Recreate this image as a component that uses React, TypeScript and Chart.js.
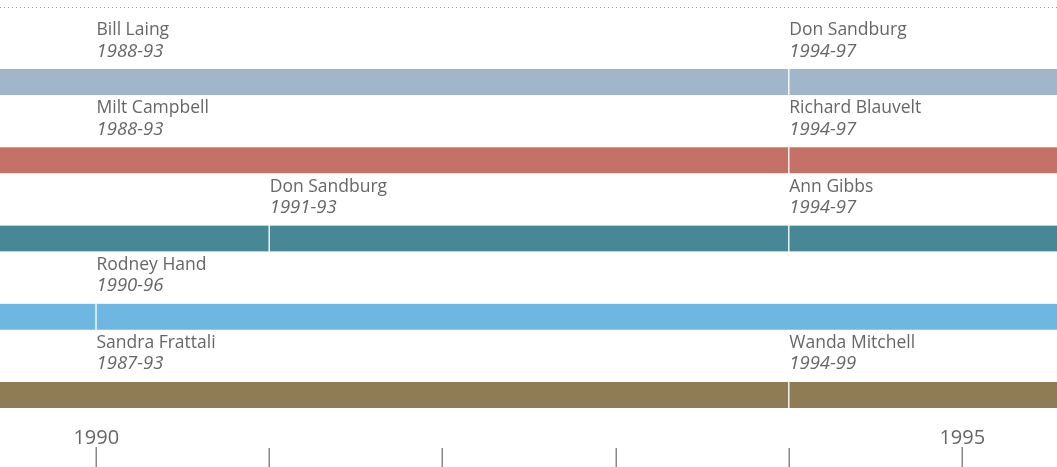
import React, { useEffect, useRef } from "react";
import { Chart, registerables } from "chart.js";

Chart.register(...registerables);

const rows = ["Row 1", "Row 2", "Row 3", "Row 4", "Row 5"];
const rowColors = ["#a1b6cb", "#c47266", "#478897", "#6fb7e3", "#8f7c54"];

const term1: [number, number][] = [[1988, 1994], [1988, 1994], [1988, 1991], [1987, 1990], [1987, 1994]];
const term1Names = ["Bill Laing", "Milt Campbell", "", "", "Sandra Frattali"];
const term1Years = ["1988-93", "1988-93", "", "", "1987-93"];

const term2: [number, number][] = [[1994, 1998], [1994, 1998], [1991, 1994], [1990, 1997], [1994, 2000]];
const term2Names = ["Don Sandburg", "Richard Blauvelt", "Don Sandburg", "Rodney Hand", "Wanda Mitchell"];
const term2Years = ["1994-97", "1994-97", "1991-93", "1990-96", "1994-99"];

const term3: ([number, number] | null)[] = [null, null, [1994, 1998], null, null];
const term3Names = ["", "", "Ann Gibbs", "", ""];
const term3Years = ["", "", "1994-97", "", ""];

const tickYears = [1990, 1991, 1992, 1993, 1994, 1995];
const tickLabels = ["1990", "", "", "", "", "1995"];

const xMin = 1989.4457;
const xMax = 1995.5485;
const labelMinYear = 1990;

const FONT = "'Open Sans', sans-serif";

const labelPlugin = {
  id: "timelineLabels",
  afterDatasetsDraw(chart: any) {
    const ctx = chart.ctx;
    const xs = chart.scales.x;
    const names = [term1Names, term2Names, term3Names];
    const years = [term1Years, term2Years, term3Years];
    ctx.save();
    chart.data.datasets.forEach((ds: any, di: number) => {
      const meta = chart.getDatasetMeta(di);
      ds.data.forEach((v: any, i: number) => {
        if (!v || !names[di][i]) return;
        const bar = meta.data[i];
        const top = bar.y - bar.height / 2;
        const x = xs.getPixelForValue(Math.max(v[0], labelMinYear)) + 0.5;
        ctx.fillStyle = "#666";
        ctx.textAlign = "left";
        ctx.textBaseline = "alphabetic";
        ctx.font = `17.5px ${FONT}`;
        ctx.fillText(names[di][i], x, top - 34);
        ctx.font = `italic 18.5px ${FONT}`;
        ctx.fillText(years[di][i], x, top - 12.5);
      });
    });
    // axis
    ctx.strokeStyle = "#888";
    ctx.lineWidth = 1.5;
    tickYears.forEach((y, i) => {
      const px = Math.round(xs.getPixelForValue(y)) + 0.25;
      ctx.beginPath();
      ctx.moveTo(px, tickLabels[i] ? 447 : 448);
      ctx.lineTo(px, 467);
      ctx.stroke();
      if (tickLabels[i]) {
        ctx.fillStyle = "#666";
        ctx.font = `20px ${FONT}`;
        ctx.textAlign = "center";
        ctx.fillText(tickLabels[i], px, 444);
      }
    });
    // dotted top line
    ctx.strokeStyle = "#6e9fd6";
    ctx.lineWidth = 1;
    ctx.setLineDash([1, 3]);
    ctx.beginPath();
    ctx.moveTo(0, 7.5);
    ctx.lineTo(chart.width, 7.5);
    ctx.stroke();
    ctx.restore();
  },
};

export default function App() {
  const ref = useRef<HTMLCanvasElement>(null);
  useEffect(() => {
    document.body.style.margin = "0";
    const common = {
      backgroundColor: rowColors,
      borderColor: "#ffffff",
      borderWidth: { left: 1, right: 1, top: 0, bottom: 0 },
      borderSkipped: false as any,
      barThickness: 26,
      grouped: false,
    };
    const chart = new Chart(ref.current!, {
      type: "bar",
      data: {
        labels: rows,
        datasets: [
          { ...common, label: "Term 1", data: term1 as any },
          { ...common, label: "Term 2", data: term2 as any },
          { ...common, label: "Term 3", data: term3 as any },
        ],
      },
      options: {
        indexAxis: "y",
        animation: false,
        responsive: true,
        maintainAspectRatio: false,
        layout: { padding: { top: 43, bottom: 33, left: 0, right: 0 } },
        plugins: { legend: { display: false }, tooltip: { enabled: false } },
        scales: {
          x: { type: "linear", min: xMin, max: xMax, display: false },
          y: { type: "category", display: false, offset: true },
        },
      },
      plugins: [labelPlugin],
    });
    return () => chart.destroy();
  }, []);
  return (
    <div style={{ width: 1057, height: 467, position: "relative" }}>
      <canvas ref={ref} />
    </div>
  );
}
